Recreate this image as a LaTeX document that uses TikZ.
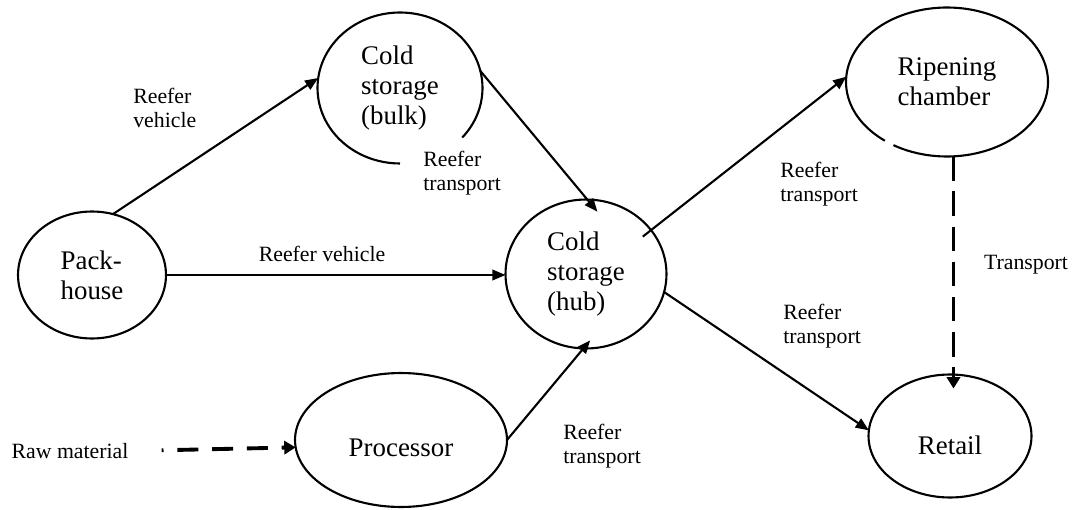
\documentclass[tikz,border=0pt]{standalone}
\usepackage{fontspec}
\setmainfont{Liberation Serif}
\usetikzlibrary{arrows.meta,shapes.geometric}

\begin{document}
\begin{tikzpicture}[x=0.02cm, y=-0.02cm,
  stage/.style={ellipse, draw, line width=1.2pt, inner sep=0pt, outer sep=0pt, align=left, font=\fontsize{15.3}{17}\selectfont},
  lab/.style={inner sep=0pt, align=left, font=\fontsize{12.4}{14}\selectfont},
  flow/.style={line width=1.2pt, -{Triangle[length=7.5pt,width=6pt]}},
  haul/.style={line width=2.2pt, -{Triangle[length=6.5pt,width=7.5pt]}}]
  \useasboundingbox (0,0) rectangle (1075,510);
  % the stages of the chain
  \node[stage, minimum width=2.96cm, minimum height=2.54cm] (pack) at (92,275) {Pack-\\house};
  \node[stage, draw=none, minimum width=3.3cm, minimum height=3.02cm] (bulk) at (400,88) {Cold\\storage\\(bulk)};
  \node[stage, minimum width=3.22cm, minimum height=2.98cm] (hub) at (586,274) {Cold\\storage\\(hub)};
  \node[stage, draw=none, minimum width=4.04cm, minimum height=2.98cm] (ripen) at (947,82) {Ripening\\chamber};
  \node[stage, minimum width=4.24cm, minimum height=2.68cm, text height=19pt] (proc) at (401,440) {Processor};
  \node[stage, minimum width=3.26cm, minimum height=2.46cm, text height=21pt] (retail) at (950,436) {Retail};
  % outlines left open
  \draw[line width=1.2pt] (bulk.center) ++(-41:1.65cm and 1.51cm)
    arc[start angle=-41, end angle=270, x radius=1.65cm, y radius=1.51cm];
  \draw[line width=1.2pt] (ripen.center) ++(-122:2.02cm and 1.49cm)
    arc[start angle=-122, end angle=232, x radius=2.02cm, y radius=1.49cm];
  % labels
  \node[lab, anchor=west] (vbulk) at (133,108) {Reefer\\vehicle};
  \node[lab] (vhub) at (322,254) {Reefer vehicle};
  \foreach \xx/\yy/\nm in {423/173/tbulk, 780/184/tripen, 783/326/tretail, 563/446/tproc} {
    \node[lab, anchor=west] (\nm) at (\xx,\yy) {Reefer\\transport};
  }
  \node[lab] (tport) at (1026,265) {Transport};
  \node[lab] (raw) at (70,451) {Raw material};
  % flows
  \draw[flow] (pack.71) -- (bulk.173);
  \draw[flow, shorten >=-9pt] (bulk.12) -- (hub.89);
  \draw[flow] (pack.east) -- (pack.east -| hub.west);
  \draw[flow, shorten <=-6pt] (hub.34) -- (ripen.177);
  \draw[flow] (hub.-13) -- (retail.176);
  \draw[flow, shorten >=-6pt] (proc.east) -- (hub.268);
  \draw[haul, dash pattern=on 11.9pt off 7.9pt, dash phase=10.8pt, shorten <=18.7pt] (raw.east) -- (proc.184);
  \draw[haul, dash pattern=on 14pt off 6pt, shorten >=-8pt] (ripen.-85) -- (ripen.-85 |- retail.north);
\end{tikzpicture}
\end{document}
